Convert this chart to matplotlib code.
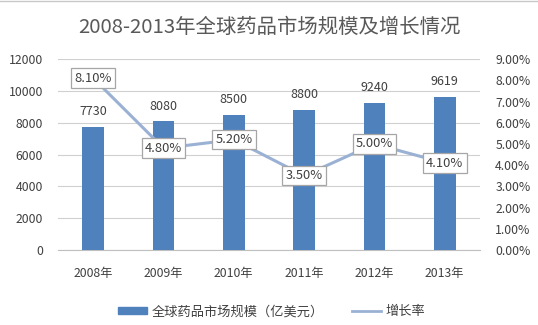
import matplotlib
matplotlib.use("Agg")
import matplotlib.pyplot as plt
import numpy as np

plt.rcParams['font.family'] = ['Noto Sans CJK SC', 'DejaVu Sans']

years = ["2008年", "2009年", "2010年", "2011年", "2012年", "2013年"]
market = [7730, 8080, 8500, 8800, 9240, 9619]
growth = [8.10, 4.80, 5.20, 3.50, 5.00, 4.10]

bar_color = "#4F81BD"
line_color = "#9BB1D4"
text_gray = "#404040"

fig = plt.figure(figsize=(5.38, 3.25), dpi=100)
ax = fig.add_axes([0.108, 0.231, 0.784, 0.587])
ax2 = ax.twinx()

x = np.arange(len(years))
ax.bar(x, market, width=0.31, color=bar_color, zorder=3)
for xi, v in zip(x, market):
    ax.text(xi, v + 950, str(v), ha="center", va="center", fontsize=9, color=text_gray)

ax.set_ylim(0, 12000)
ax.set_yticks(range(0, 12001, 2000))
ax.set_xlim(-0.5, len(years) - 0.5)
ax.set_xticks(x)
ax.set_xticklabels(years)
ax.grid(axis="y", color="#D0D0D0", linewidth=0.8, zorder=0)
ax.set_axisbelow(True)
ax.tick_params(axis="both", length=0, labelsize=8.8, colors=text_gray)
ax.tick_params(axis="x", pad=12)
ax.tick_params(axis="y", pad=11)
for s in ax.spines.values():
    s.set_visible(False)
ax.spines["bottom"].set_visible(True)
ax.spines["bottom"].set_color("#BFBFBF")

ax2.plot(x, growth, color=line_color, linewidth=2.2, zorder=4)
for xi, g in zip(x, growth):
    ax2.text(xi, g, f"{g:.2f}%", ha="center", va="center", fontsize=9.3, color=text_gray,
             bbox=dict(boxstyle="square,pad=0.25", facecolor="white", edgecolor="#A6A6A6", linewidth=0.9),
             zorder=5)
ax2.set_ylim(0, 9)
ax2.set_yticks(range(0, 10))
ax2.set_yticklabels([f"{t:.2f}%" for t in range(0, 10)])
ax2.tick_params(axis="y", length=0, labelsize=8.8, colors=text_gray, pad=11)
for s in ax2.spines.values():
    s.set_visible(False)

fig.text(0.5, 0.914, "2008-2013年全球药品市场规模及增长情况", ha="center", va="center",
         fontsize=14.7, color="#595959")
fig.add_artist(plt.Line2D([0, 1], [0.997, 0.997], transform=fig.transFigure,
                          color="#C8C8C8", linewidth=1))

h1 = plt.Rectangle((0, 0), 1, 1, color=bar_color)
h2 = plt.Line2D([0], [0], color=line_color, linewidth=2)
fig.legend([h1, h2], ["全球药品市场规模（亿美元）", "增长率"], loc="center",
           bbox_to_anchor=(0.505, 0.04), ncol=2, frameon=False, fontsize=9.5,
           handlelength=2.2, handleheight=0.4, handletextpad=0.3, columnspacing=2.2,
           labelcolor=text_gray)

fig.savefig("out.png", dpi=100)
